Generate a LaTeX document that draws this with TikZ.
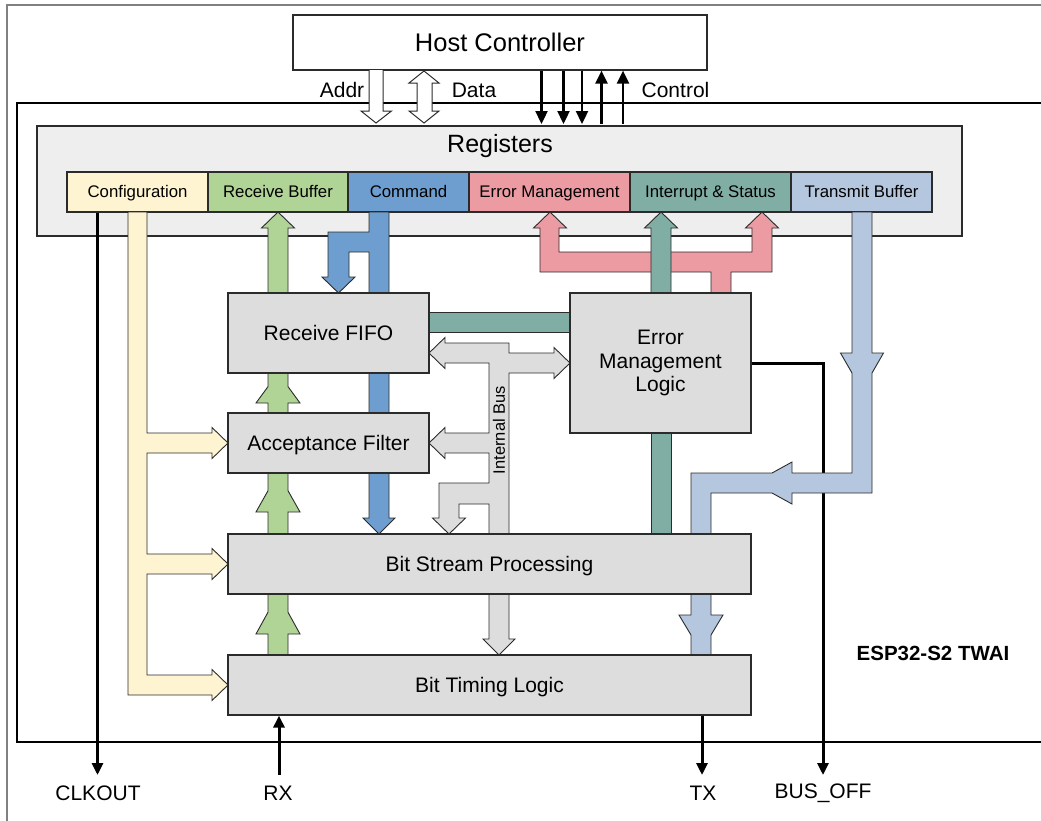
\documentclass[tikz,border=0pt]{standalone}
\usepackage{fontspec}
\setmainfont{Liberation Sans}
\usetikzlibrary{arrows.meta}
\definecolor{linec}{HTML}{2B2B2B}
\definecolor{regbg}{HTML}{EEEEEE}
\definecolor{blkgray}{HTML}{DDDDDD}
\definecolor{cyel}{HTML}{FFF4D1}
\definecolor{cgrn}{HTML}{B0D396}
\definecolor{cblu}{HTML}{6E9ED0}
\definecolor{cpnk}{HTML}{ED9BA3}
\definecolor{ctel}{HTML}{80ADA4}
\definecolor{clbl}{HTML}{B4C7DE}
\newcommand\fsz[2]{\fontsize{#1}{#2}\selectfont}
\begin{document}
\begin{tikzpicture}[x=1pt,y=-1pt,
  blk/.style={draw=linec, fill=blkgray, line width=1.2pt, inner sep=0pt, align=center, font=\fsz{21}{23.5}},
  blkone/.style={blk, text height=19pt, text depth=4pt},
  regcell/.style={draw=linec, line width=1.2pt, inner sep=0pt, minimum height=40pt, text height=14pt, text depth=3pt, font=\fsz{16.8}{19}},
  bus/.style={draw=linec, line width=0.9pt, line join=miter},
  sig/.style={line width=3pt, -{Triangle[length=12pt,width=11pt]}},
  ctl/.style={line width=2.3pt, -{Triangle[length=13pt,width=12pt]}},
  lbl/.style={inner sep=0pt, font=\fsz{21}{24}}
]
\useasboundingbox (0,0) rectangle (1041,820);
% frames
\draw[draw=gray, line width=1.5pt] (7,825) -- (7,5) -- (1045,5);
\draw[line width=2pt] (1045,103) -- (17,103) -- (17,742) -- (1045,742);
\node[font=\bfseries\fsz{20.5}{23}, inner sep=0pt] (twai) at (933,653) {ESP32-S2 TWAI};

% registers
\node[draw=linec, fill=regbg, line width=1.2pt, minimum width=925pt, minimum height=110pt, inner sep=0pt] (regs) at (499.5,181) {};
\node[lbl, font=\fsz{25}{28}] (regt) at (500,146) {Registers};
\node[regcell, fill=cyel, minimum width=141pt] (cfg) at (137.5,192) {Configuration};
\node[regcell, fill=cgrn, minimum width=140pt] (rxbuf) at (278,192) {Receive Buffer};
\node[regcell, fill=cblu, minimum width=121pt] (cmd) at (408.5,192) {Command};
\node[regcell, fill=cpnk, minimum width=161pt] (errm) at (549.5,192) {Error Management};
\node[regcell, fill=ctel, minimum width=161pt] (intr) at (710.5,192) {Interrupt \& Status};
\node[regcell, fill=clbl, minimum width=141pt] (txbuf) at (861.5,192) {Transmit Buffer};

% host
\node[draw=linec, fill=white, line width=1.2pt, minimum width=414pt, minimum height=55pt, inner sep=0pt, font=\fsz{25.5}{28}] (host) at (500,42.5) {Host Controller};

% pin labels and end points
\node[lbl] (clk) at (98,793) {CLKOUT};
\node[lbl] (rx) at (278,793) {RX};
\node[lbl] (tx) at (703,793) {TX};
\node[lbl] (boff) at (823,793) {BUS\_OFF};
\coordinate (clkend) at (97.5,775);
\coordinate (rxend) at (279,775);
\coordinate (txend) at (702,775);
\coordinate (boffend) at (823,775);

% signal lines drawn behind buses
\coordinate (emlE) at (751,363);
\draw[sig] (emlE) -| (boffend);
\draw[sig] (cfg.south -| clkend) -- (clkend);

% yellow configuration bus
\draw[bus, fill=cyel] (128,212) -- (128,695) -- (212,695) -- (212,700.5) -- (228,685) -- (212,669.5) -- (212,675) -- (147,675)
  -- (147,574) -- (212,574) -- (212,579.5) -- (228,564) -- (212,548.5) -- (212,554) -- (147,554)
  -- (147,453) -- (212,453) -- (212,458.5) -- (228,443) -- (212,427.5) -- (212,433) -- (147,433) -- (147,212) -- cycle;

% green receive bus
\draw[bus, fill=cgrn] (268,293) -- (268,228) -- (261.5,228) -- (278,212) -- (294.5,228) -- (288,228) -- (288,293) -- cycle;
\draw[bus, fill=cgrn] (268,413) -- (268,403) -- (256,403) -- (268,386.6) -- (268,373) -- (288,373) -- (288,386.6) -- (300,403) -- (288,403) -- (288,413) -- cycle;
\draw[bus, fill=cgrn] (268,534) -- (268,512) -- (256,512) -- (268,490.7) -- (268,473) -- (288,473) -- (288,490.7) -- (300,512) -- (288,512) -- (288,534) -- cycle;
\draw[bus, fill=cgrn] (268,655) -- (268,634) -- (256,634) -- (268,612.2) -- (268,594) -- (288,594) -- (288,612.2) -- (300,634) -- (288,634) -- (288,655) -- cycle;

% blue command bus
\draw[bus, fill=cblu] (369,212) -- (369,232) -- (328,232) -- (328,277) -- (322,277) -- (338.5,293) -- (355,277) -- (349,277) -- (349,252) -- (369,252)
  -- (369,518) -- (363,518) -- (379,534) -- (395,518) -- (389,518) -- (389,212) -- cycle;

% pink error management bus
\draw[bus, fill=cpnk] (540,272) -- (540,228) -- (533.5,228) -- (550,212) -- (566.5,228) -- (559,228) -- (559,252) -- (752,252) -- (752,228) -- (745.5,228) -- (762,212) -- (778.5,228) -- (772,228) -- (772,272) -- (731,272) -- (731,293) -- (711,293) -- (711,272) -- cycle;

% teal interrupt bus
\draw[bus, fill=ctel] (651,293) -- (651,228) -- (644.5,228) -- (661,212) -- (677.5,228) -- (671,228) -- (671,293) -- cycle;
\draw[bus, fill=ctel] (651,433) rectangle (671,534);
\draw[bus, fill=ctel] (429,312) rectangle (570,332);

% internal bus
\draw[bus, fill=blkgray] (429,353) -- (445,337.5) -- (445,343) -- (509,343) -- (509,353) -- (554,353) -- (554,347.5) -- (570,363) -- (554,378.5) -- (554,373) -- (509,373)
  -- (509,534) -- (489,534) -- (489,504) -- (459,504) -- (459,518) -- (465.5,518) -- (449,534) -- (432.5,518) -- (439,518) -- (439,483) -- (489,483)
  -- (489,453) -- (445,453) -- (445,458.5) -- (429,443) -- (445,427.5) -- (445,433) -- (489,433) -- (489,363) -- (445,363) -- (445,368.5) -- cycle;
\draw[bus, fill=blkgray] (489,594) -- (489,639) -- (483,639) -- (499,655) -- (515,639) -- (509,639) -- (509,594) -- cycle;
\node[rotate=90, inner sep=0pt, font=\fsz{16.5}{18}] (ibus) at (499,430) {Internal Bus};

% light blue transmit bus
\draw[bus, fill=clbl] (852,212) -- (852,353) -- (840.5,353) -- (852,373) -- (852,473) -- (792,473) -- (792,462) -- (772,473) -- (691,473)
  -- (691,615) -- (679,615) -- (691,635) -- (691,655) -- (711,655) -- (711,635) -- (723,615) -- (711,615) -- (711,493)
  -- (772,493) -- (792,504) -- (792,493) -- (872,493) -- (872,373) -- (883.5,353) -- (872,353) -- (872,212) -- cycle;

% blocks
\node[blkone, minimum width=201pt, minimum height=80pt] (fifo) at (328.5,333) {Receive FIFO};
\node[blkone, minimum width=201pt, minimum height=60pt] (acc) at (328.5,443) {Acceptance Filter};
\node[blk, minimum width=181pt, minimum height=140pt] (eml) at (660.5,363) {Error\\Management\\Logic};
\node[blkone, minimum width=523pt, minimum height=60pt] (bsp) at (489.5,564) {Bit Stream Processing};
\node[blkone, minimum width=523pt, minimum height=60pt] (btl) at (489.5,685) {Bit Timing Logic};

\draw[sig] (rxend) -- (btl.south -| rxend);
\draw[sig] (btl.south -| txend) -- (txend);

% host interface
\draw[bus, fill=white, line width=1pt] (369,70) -- (369,111) -- (361,111) -- (376,123) -- (391.5,111) -- (383,111) -- (383,70);
\draw[bus, fill=white, line width=1pt] (417,83) -- (409,83) -- (424,71) -- (439,83) -- (432,83) -- (432,111) -- (439,111) -- (424,123) -- (409,111) -- (417,111) -- cycle;
\foreach \xx in {541.5,563.5,582} {\draw[ctl] (host.south -| \xx,0) -- (\xx,124);}
\foreach \xx in {601.5,623} {\draw[ctl] (\xx,124) -- (host.south -| \xx,0);}
\node[lbl] (addr) at (342,90) {Addr};
\node[lbl] (data) at (474,90) {Data};
\node[lbl] (ctrl) at (675.5,90) {Control};
\end{tikzpicture}
\end{document}
